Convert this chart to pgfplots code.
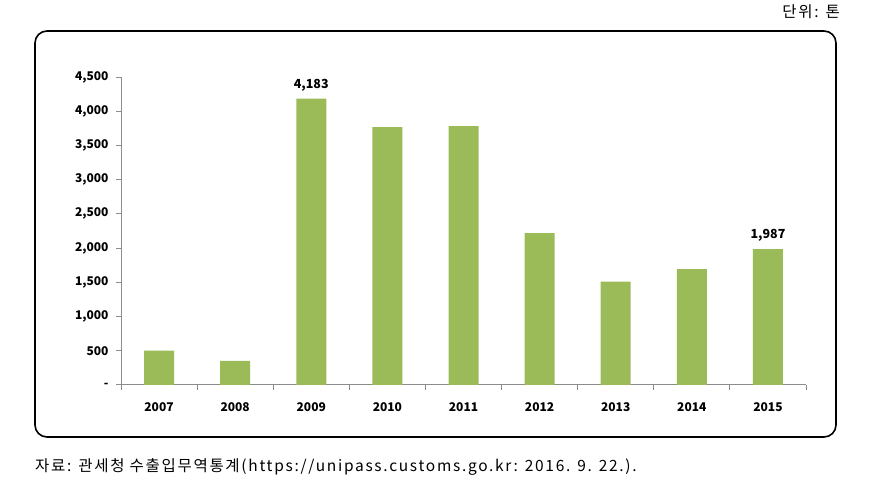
\documentclass[border=0pt]{standalone}
\usepackage{fontspec}
\setmainfont{Noto Sans CJK KR}
\newfontfamily\kr[LetterSpace=11]{Noto Sans CJK KR}
\usepackage{pgfplots}
\pgfplotsset{compat=1.18}
\definecolor{bargreen}{HTML}{9BBB59}
\definecolor{axgray}{HTML}{8C8C8C}
\begin{document}
\begin{tikzpicture}[x=1pt,y=1pt]
\path (0,0) rectangle (870,498);
\draw[line width=1.6pt, rounded corners=12pt] (35,61) rectangle (836,467);
\node[anchor=east, font=\kr\fontsize{15.5}{17}\selectfont, inner sep=0pt] at (840,486) {단위: 톤};
\node[anchor=west, font=\kr\fontsize{15.5}{17}\selectfont, inner sep=0pt] at (35,31) {자료: 관세청 수출입무역통계(https://unipass.customs.go.kr: 2016. 9. 22.).};
\begin{axis}[
  at={(121pt,113pt)}, anchor=south west,
  scale only axis, width=685pt, height=308pt,
  xmin=-0.5, xmax=8.5, ymin=0, ymax=4500,
  axis lines*=left,
  axis line style={axgray, line width=1pt},
  every tick/.style={axgray, line width=1pt},
  tick align=outside,
  xtick={0,...,8},
  xticklabels={2007,2008,2009,2010,2011,2012,2013,2014,2015},
  major x tick style={draw=none},
  minor xtick={-0.5,0.5,...,8.5},
  minor tick length=5pt,
  ytick={0,500,...,4500},
  yticklabels={-,500,{1,000},{1,500},{2,000},{2,500},{3,000},{3,500},{4,000},{4,500}},
  major tick length=5pt,
  ticklabel style={font=\bfseries\fontsize{12}{14}\selectfont},
  xticklabel style={yshift=-9pt},
  yticklabel style={xshift=-4pt},
  /pgf/number format/assume math mode=true,
  clip=false,
]
\addplot[ybar, bar width=30pt, bar shift=0pt, fill=bargreen, draw=none]
  coordinates {(0,502) (1,351) (2,4183) (3,3768) (4,3783) (5,2218) (6,1511) (7,1692) (8,1987)};
\addplot[ybar, bar width=30pt, bar shift=0pt, draw=none, fill=none,
  nodes near coords,
  nodes near coords style={font=\bfseries\fontsize{12.5}{14}\selectfont, black, yshift=4pt,
    /pgf/number format/1000 sep={,}, /pgf/number format/assume math mode=true}]
  coordinates {(2,4183) (8,1987)};
\end{axis}
\end{tikzpicture}
\end{document}
